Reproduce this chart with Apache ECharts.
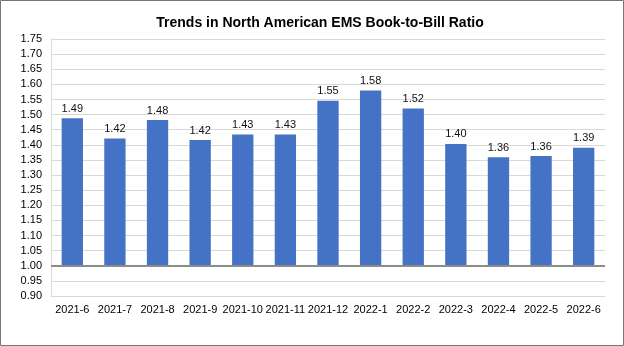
<!DOCTYPE html>
<html>
<head>
<meta charset="utf-8">
<script src="https://cdn.jsdelivr.net/npm/echarts@6/dist/echarts.min.js"></script>
<style>
html,body{margin:0;padding:0;background:#fff;}
#c{width:624px;height:346px;}
</style>
</head>
<body>
<div id="c"></div>
<script>
const categories = ['2021-6','2021-7','2021-8','2021-9','2021-10','2021-11','2021-12','2022-1','2022-2','2022-3','2022-4','2022-5','2022-6'];
const ratios = [1.488, 1.421, 1.482, 1.416, 1.434, 1.434, 1.546, 1.58, 1.52, 1.403, 1.359, 1.363, 1.39];
const baseline = 1.0;
const yMin = 0.9, yMax = 1.75, yStep = 0.05;
const titleText = 'Trends in North American EMS Book-to-Bill Ratio';

const baseData = categories.map(() => baseline);
const riseData = ratios.map(v => +(v - baseline).toFixed(4));

const chart = echarts.init(document.getElementById('c'), null, {renderer:'canvas'});
chart.setOption({
  animation:false,
  backgroundColor:'#fff',
  textStyle:{fontFamily:'Liberation Sans, Arial, sans-serif'},
  title:{
    text:titleText, left:315, textAlign:'center', top:11,
    textStyle:{fontFamily:'Liberation Sans, Arial, sans-serif', fontSize:14, fontWeight:'bold', color:'#000'}
  },
  graphic:[{
    type:'rect', z:-1, silent:true,
    shape:{x:0.5,y:0.5,width:623,height:345},
    style:{fill:'none', stroke:'#767676', lineWidth:1}
  }],
  grid:{left:51, right:19, top:39, bottom:50, containLabel:false},
  xAxis:{
    type:'category', data:categories,
    axisLine:{show:false}, axisTick:{show:false},
    axisLabel:{color:'#000', fontSize:11, margin:8, interval:0,
      fontFamily:'Liberation Sans, Arial, sans-serif'}
  },
  yAxis:{
    type:'value', min:yMin, max:yMax, interval:yStep,
    axisLine:{show:true, lineStyle:{color:'#d9d9d9', width:1}},
    axisTick:{show:false},
    splitLine:{lineStyle:{color:'#d9d9d9', width:1}},
    axisLabel:{color:'#000', fontSize:11, margin:9,
      fontFamily:'Liberation Sans, Arial, sans-serif',
      formatter:v=>v.toFixed(2)}
  },
  series:[
    {
      type:'bar', stack:'r', data:baseData, barWidth:'50%',
      itemStyle:{color:'rgba(0,0,0,0)'}, silent:true,
      markLine:{
        silent:true, symbol:'none', label:{show:false},
        lineStyle:{color:'#8c8c8c', width:2, type:'solid'},
        data:[{yAxis:baseline}]
      }
    },
    {
      type:'bar', stack:'r', data:riseData, barWidth:'50%',
      itemStyle:{color:'#4472C4'},
      label:{show:true, position:'top', distance:4, color:'#111', fontSize:11,
        fontFamily:'Liberation Sans, Arial, sans-serif',
        formatter:p=>ratios[p.dataIndex].toFixed(2)}
    }
  ]
});
</script>
</body>
</html>
